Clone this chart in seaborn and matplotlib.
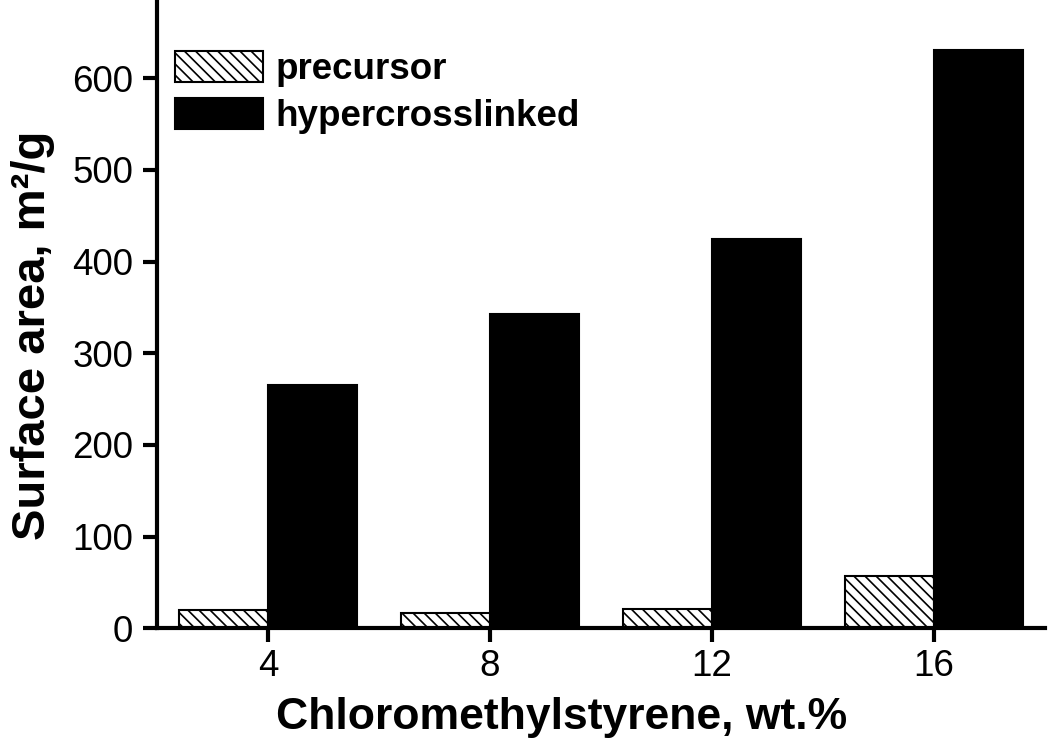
import pandas as pd
import seaborn as sns
import matplotlib.pyplot as plt

# Datos
cms = ['4', '8', '12', '16']
precursor = [20, 17, 21, 57]
hypercrosslinked = [265, 343, 425, 631]

df = pd.DataFrame({
    'CMS': cms * 2,
    'Area': precursor + hypercrosslinked,
    'Muestra': ['precursor'] * 4 + ['hypercrosslinked'] * 4,
})

sns.set_style('ticks', rc={'axes.edgecolor': 'black', 'text.color': 'black',
                           'axes.labelcolor': 'black', 'xtick.color': 'black',
                           'ytick.color': 'black'})
plt.rcParams['font.family'] = ['Liberation Sans', 'DejaVu Sans']
plt.rcParams['hatch.linewidth'] = 1.2

fig = plt.figure(figsize=(10.5, 7.47), dpi=100)
ax = fig.add_axes([0.1495, 0.159, 0.8455, 0.838])

sns.barplot(data=df, x='CMS', y='Area', hue='Muestra', order=cms,
            hue_order=['precursor', 'hypercrosslinked'],
            palette=['white', 'black'], width=0.8, saturation=1,
            edgecolor='black', linewidth=1.5, ax=ax, legend=False)

# Rayado para el precursor
for bar in ax.containers[0]:
    bar.set_hatch('\\\\\\')

ax.set_xlim(-0.5, 3.5)
ax.set_ylim(0, 683)
ax.set_yticks([0, 100, 200, 300, 400, 500, 600])

ax.set_xlabel('Chloromethylstyrene, wt.%', fontsize=32, fontweight='bold')
ax.set_ylabel('Surface area, m²/g', fontsize=34, fontweight='bold')
ax.xaxis.set_label_coords(0.456, -0.11)
ax.yaxis.set_label_coords(-0.115, 0.468)
ax.tick_params(axis='both', labelsize=26.5, width=3, length=10, direction='out')
ax.tick_params(axis='x', pad=5)
ax.tick_params(axis='y', pad=7)

for lado in ['left', 'bottom']:
    ax.spines[lado].set_linewidth(3)
sns.despine(ax=ax)

ax.legend(ax.containers, ['precursor', 'hypercrosslinked'], loc='upper left',
          bbox_to_anchor=(0.02, 0.922), frameon=False, borderpad=0, borderaxespad=0,
          handlelength=2.4, handleheight=0.92, handletextpad=0.33, labelspacing=0.28,
          prop={'size': 26.5, 'weight': 'bold'})

plt.savefig('out.png', dpi=100)
